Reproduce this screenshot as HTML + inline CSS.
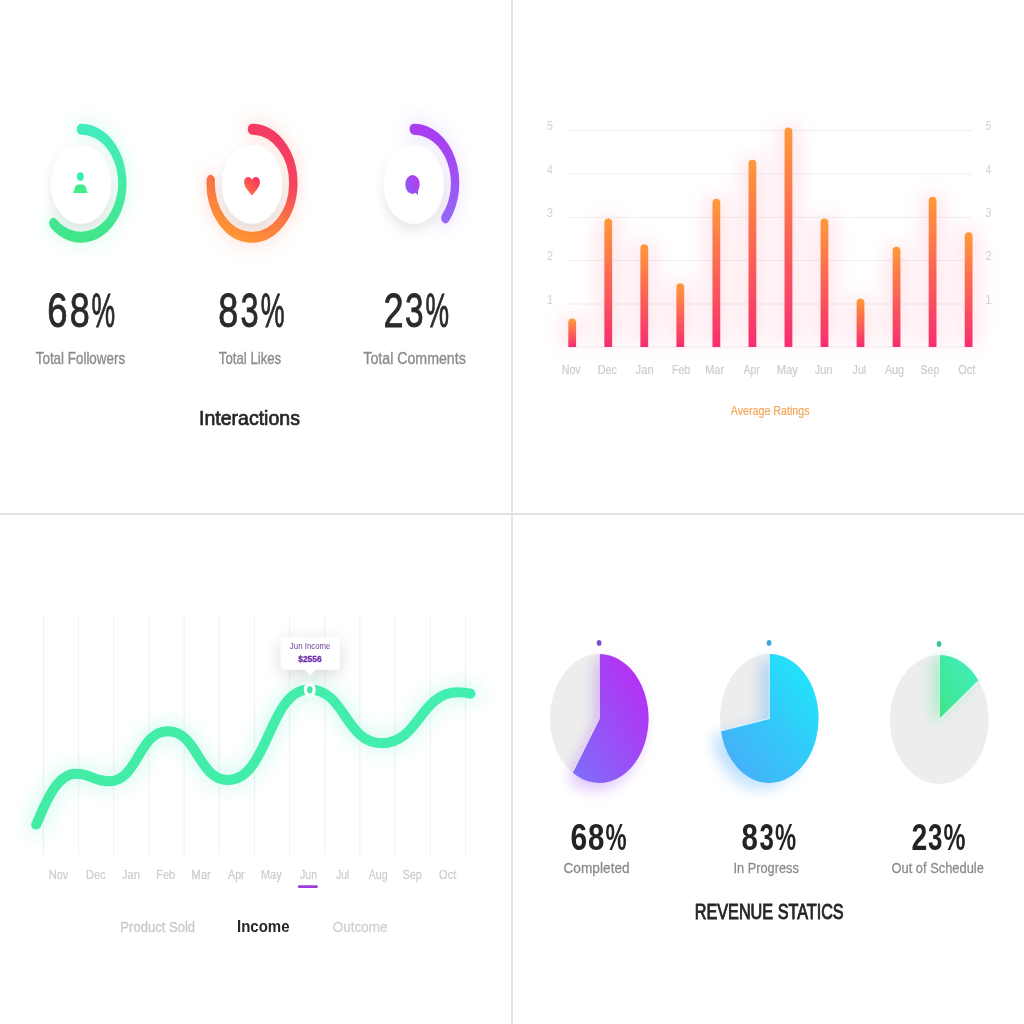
<!DOCTYPE html>
<html><head><meta charset="utf-8"><style>
html,body{margin:0;padding:0;background:#fff;width:1024px;height:1024px;overflow:hidden}
svg{display:block;will-change:transform}
text{font-family:"Liberation Sans",sans-serif}
</style></head><body>
<svg width="1024" height="1024" viewBox="0 0 1024 1024">
<defs>
<linearGradient id="gGreen" x1="0" y1="0" x2="0" y2="1"><stop offset="0" stop-color="#44ecbc"/><stop offset="0.5" stop-color="#45eba6"/><stop offset="1" stop-color="#41e58a"/></linearGradient>
<linearGradient id="gOrange" x1="0.7" y1="0" x2="0.3" y2="1"><stop offset="0" stop-color="#f43a63"/><stop offset="0.38" stop-color="#f5465c"/><stop offset="0.68" stop-color="#fa7744"/><stop offset="1" stop-color="#fd9535"/></linearGradient>
<linearGradient id="gPurple" x1="0" y1="0" x2="0" y2="1"><stop offset="0" stop-color="#a83cf0"/><stop offset="1" stop-color="#9566f7"/></linearGradient>
<linearGradient id="gHeart" x1="1" y1="0" x2="0" y2="1"><stop offset="0" stop-color="#ff2668"/><stop offset="1" stop-color="#fb7f38"/></linearGradient>
<linearGradient id="gBubble" x1="1" y1="0.2" x2="0" y2="0.8"><stop offset="0" stop-color="#bb36f0"/><stop offset="1" stop-color="#865ff6"/></linearGradient>
<linearGradient id="gBar" x1="0" y1="0" x2="0" y2="1"><stop offset="0" stop-color="#fe9a3a"/><stop offset="1" stop-color="#f72d70"/></linearGradient>
<linearGradient id="gPie1" x1="1" y1="0" x2="0" y2="1"><stop offset="0" stop-color="#be26f3"/><stop offset="1" stop-color="#7c70f9"/></linearGradient>
<linearGradient id="gPie2" x1="1" y1="0" x2="0" y2="1"><stop offset="0" stop-color="#1cecfb"/><stop offset="0.5" stop-color="#34c8f9"/><stop offset="1" stop-color="#4aa8f8"/></linearGradient>
<linearGradient id="gPie3" x1="1" y1="0" x2="0" y2="1"><stop offset="0" stop-color="#43efc0"/><stop offset="1" stop-color="#3fe488"/></linearGradient>
<linearGradient id="gLine" x1="0" y1="0" x2="1" y2="0"><stop offset="0" stop-color="#42eca4"/><stop offset="1" stop-color="#43eeb0"/></linearGradient>
<filter id="blur6" x="-50%" y="-50%" width="200%" height="200%"><feGaussianBlur stdDeviation="6"/></filter>
<filter id="blur10" x="-100%" y="-50%" width="300%" height="200%"><feGaussianBlur stdDeviation="10"/></filter>
<filter id="blur8" x="-50%" y="-50%" width="200%" height="200%"><feGaussianBlur stdDeviation="8"/></filter>
<filter id="blur4" x="-50%" y="-50%" width="200%" height="200%"><feGaussianBlur stdDeviation="4"/></filter>
<filter id="blur3" x="-50%" y="-50%" width="200%" height="200%"><feGaussianBlur stdDeviation="3"/></filter>
<filter id="discSh" x="-50%" y="-50%" width="200%" height="200%"><feDropShadow dx="0" dy="6" stdDeviation="7" flood-color="#000" flood-opacity="0.10"/></filter>
<filter id="tipSh" x="-50%" y="-50%" width="200%" height="200%"><feDropShadow dx="0" dy="4" stdDeviation="8" flood-color="#000" flood-opacity="0.15"/></filter>

</defs>
<rect x="511" y="0" width="2" height="1024" fill="#e3e3e3"/>
<rect x="0" y="513" width="1024" height="2" fill="#e3e3e3"/>
<g transform="translate(81.0,183.2) scale(0.765,1)">
<path d="M0.00,-54.00 A54,54 0 1 1 -36.13,40.13" fill="none" stroke="#3fe6a0" stroke-opacity="0.13" stroke-width="22" stroke-linecap="round" filter="url(#blur8)"/>
<circle cx="0" cy="1" r="39.5" fill="#ffffff" filter="url(#discSh)"/>
<path d="M0.00,-54.00 A54,54 0 1 1 -36.13,40.13" fill="none" stroke="url(#gGreen)" stroke-width="11" stroke-linecap="round"/>
</g>
<g transform="translate(252.0,183.2) scale(0.765,1)">
<path d="M0.00,-54.00 A54,54 0 1 1 -53.93,-2.83" fill="none" stroke="#fb6a4a" stroke-opacity="0.14" stroke-width="22" stroke-linecap="round" filter="url(#blur8)"/>
<circle cx="0" cy="1" r="39.5" fill="#ffffff" filter="url(#discSh)"/>
<path d="M0.00,-54.00 A54,54 0 1 1 -53.93,-2.83" fill="none" stroke="url(#gOrange)" stroke-width="11" stroke-linecap="round"/>
</g>
<g transform="translate(413.8,183.2) scale(0.765,1)">
<path d="M0.00,-54.00 A54,54 0 0 1 41.37,34.71" fill="none" stroke="#a050f0" stroke-opacity="0.12" stroke-width="22" stroke-linecap="round" filter="url(#blur8)"/>
<circle cx="0" cy="1" r="39.5" fill="#ffffff" filter="url(#discSh)"/>
<path d="M0.00,-54.00 A54,54 0 0 1 41.37,34.71" fill="none" stroke="url(#gPurple)" stroke-width="11" stroke-linecap="round"/>
</g>
<circle cx="80.4" cy="176.6" r="4.3" transform="translate(80.4,176.6) scale(0.79,1) translate(-80.4,-176.6)" fill="#35eeb8"/>
<path d="M73.2,192.9 L75.3,186.6 Q76.2,184.4 78.8,184.4 L82,184.4 Q84.6,184.4 85.5,186.6 L87.6,192.9 Z" fill="#44ec8c"/>
<g transform="translate(252,186.2) scale(0.7191,0.97)"><path d="M0,9.5 C-4,6 -11,1 -11,-4 C-11,-8 -8,-9.5 -5.5,-9.5 C-3,-9.5 -1,-8.2 0,-6.6 C1,-8.2 3,-9.5 5.5,-9.5 C8,-9.5 11,-8 11,-4 C11,1 4,6 0,9.5 Z" fill="url(#gHeart)"/></g>
<g transform="translate(412.5,184.5) scale(0.765,1)"><circle cx="0" cy="0" r="9.4" fill="url(#gBubble)"/><path d="M3.5,7.5 L6.8,11 L7.6,4.8 Z" fill="#8f55e6"/></g>
<text transform="matrix(0.7674,0,0,1,47.27,326.50)" x="0" y="0" font-size="47.5" font-weight="normal" fill="#2a2a2a" stroke="#2a2a2a" stroke-width="0.9">6</text>
<text transform="matrix(0.7578,0,0,1,69.81,326.50)" x="0" y="0" font-size="47.5" font-weight="normal" fill="#2a2a2a" stroke="#2a2a2a" stroke-width="0.9">8</text>
<text transform="matrix(0.5596,0,0,1,91.42,326.50)" x="0" y="0" font-size="47.5" font-weight="normal" fill="#2a2a2a" stroke="#2a2a2a" stroke-width="0.9">%</text>
<text transform="matrix(0.7578,0,0,1,218.31,326.50)" x="0" y="0" font-size="47.5" font-weight="normal" fill="#2a2a2a" stroke="#2a2a2a" stroke-width="0.9">8</text>
<text transform="matrix(0.6862,0,0,1,240.59,326.50)" x="0" y="0" font-size="47.5" font-weight="normal" fill="#2a2a2a" stroke="#2a2a2a" stroke-width="0.9">3</text>
<text transform="matrix(0.5646,0,0,1,260.82,326.50)" x="0" y="0" font-size="47.5" font-weight="normal" fill="#2a2a2a" stroke="#2a2a2a" stroke-width="0.9">%</text>
<text transform="matrix(0.7596,0,0,1,383.44,326.50)" x="0" y="0" font-size="47.5" font-weight="normal" fill="#2a2a2a" stroke="#2a2a2a" stroke-width="0.9">2</text>
<text transform="matrix(0.7032,0,0,1,404.96,326.50)" x="0" y="0" font-size="47.5" font-weight="normal" fill="#2a2a2a" stroke="#2a2a2a" stroke-width="0.9">3</text>
<text transform="matrix(0.5571,0,0,1,425.52,326.50)" x="0" y="0" font-size="47.5" font-weight="normal" fill="#2a2a2a" stroke="#2a2a2a" stroke-width="0.9">%</text>
<text transform="matrix(0.8384,0,0,1,35.74,364.40)" x="0" y="0" font-size="16" font-weight="normal" fill="#8c8c8c" stroke="#8c8c8c" stroke-width="0.35">Total Followers</text>
<text transform="matrix(0.8263,0,0,1,218.85,364.40)" x="0" y="0" font-size="16" font-weight="normal" fill="#8c8c8c" stroke="#8c8c8c" stroke-width="0.35">Total Likes</text>
<text transform="matrix(0.8867,0,0,1,363.34,364.40)" x="0" y="0" font-size="16" font-weight="normal" fill="#8c8c8c" stroke="#8c8c8c" stroke-width="0.35">Total Comments</text>
<text transform="matrix(0.9616,0,0,1,199.03,424.90)" x="0" y="0" font-size="20.3" font-weight="normal" fill="#262626" stroke="#262626" stroke-width="0.7">Interactions</text>
<rect x="568.3" y="130.0" width="404" height="1" fill="#efefef"/>
<rect x="568.3" y="173.5" width="404" height="1" fill="#efefef"/>
<rect x="568.3" y="216.8" width="404" height="1" fill="#efefef"/>
<rect x="568.3" y="260.1" width="404" height="1" fill="#efefef"/>
<rect x="568.3" y="303.5" width="404" height="1" fill="#efefef"/>
<rect x="568.3" y="346.5" width="404" height="1" fill="#efefef"/>
<text transform="matrix(0.7797,0,0,1,547.08,130.00)" x="0" y="0" font-size="13.5" font-weight="normal" fill="#d2d2d2" >5</text>
<text transform="matrix(0.7797,0,0,1,985.58,130.00)" x="0" y="0" font-size="13.5" font-weight="normal" fill="#d2d2d2" >5</text>
<text transform="matrix(0.7334,0,0,1,547.28,173.50)" x="0" y="0" font-size="13.5" font-weight="normal" fill="#d2d2d2" >4</text>
<text transform="matrix(0.7334,0,0,1,985.78,173.50)" x="0" y="0" font-size="13.5" font-weight="normal" fill="#d2d2d2" >4</text>
<text transform="matrix(0.7797,0,0,1,547.11,216.80)" x="0" y="0" font-size="13.5" font-weight="normal" fill="#d2d2d2" >3</text>
<text transform="matrix(0.7797,0,0,1,985.61,216.80)" x="0" y="0" font-size="13.5" font-weight="normal" fill="#d2d2d2" >3</text>
<text transform="matrix(0.8140,0,0,1,546.95,260.10)" x="0" y="0" font-size="13.5" font-weight="normal" fill="#d2d2d2" >2</text>
<text transform="matrix(0.8140,0,0,1,985.45,260.10)" x="0" y="0" font-size="13.5" font-weight="normal" fill="#d2d2d2" >2</text>
<text transform="matrix(0.8563,0,0,1,546.63,303.50)" x="0" y="0" font-size="13.5" font-weight="normal" fill="#d2d2d2" >1</text>
<text transform="matrix(0.8563,0,0,1,985.13,303.50)" x="0" y="0" font-size="13.5" font-weight="normal" fill="#d2d2d2" >1</text>
<rect x="562.30" y="316.40" width="19.80" height="28.60" fill="#ff4d7a" opacity="0.16" filter="url(#blur10)"/><rect x="598.34" y="216.40" width="19.80" height="128.60" fill="#ff4d7a" opacity="0.16" filter="url(#blur10)"/><rect x="634.38" y="242.20" width="19.80" height="102.80" fill="#ff4d7a" opacity="0.16" filter="url(#blur10)"/><rect x="670.42" y="281.20" width="19.80" height="63.80" fill="#ff4d7a" opacity="0.16" filter="url(#blur10)"/><rect x="706.46" y="196.70" width="19.80" height="148.30" fill="#ff4d7a" opacity="0.16" filter="url(#blur10)"/><rect x="742.50" y="157.70" width="19.80" height="187.30" fill="#ff4d7a" opacity="0.16" filter="url(#blur10)"/><rect x="778.54" y="125.40" width="19.80" height="219.60" fill="#ff4d7a" opacity="0.16" filter="url(#blur10)"/><rect x="814.58" y="216.40" width="19.80" height="128.60" fill="#ff4d7a" opacity="0.16" filter="url(#blur10)"/><rect x="850.62" y="296.40" width="19.80" height="48.60" fill="#ff4d7a" opacity="0.16" filter="url(#blur10)"/><rect x="886.66" y="244.80" width="19.80" height="100.20" fill="#ff4d7a" opacity="0.16" filter="url(#blur10)"/><rect x="922.70" y="194.80" width="19.80" height="150.20" fill="#ff4d7a" opacity="0.16" filter="url(#blur10)"/><rect x="958.74" y="230.30" width="19.80" height="114.70" fill="#ff4d7a" opacity="0.16" filter="url(#blur10)"/>
<path d="M568.30,347 L568.30,322.30 A3.9,3.9 0 0 1 576.10,322.30 L576.10,347 Z" fill="url(#gBar)"/><path d="M604.34,347 L604.34,222.30 A3.9,3.9 0 0 1 612.14,222.30 L612.14,347 Z" fill="url(#gBar)"/><path d="M640.38,347 L640.38,248.10 A3.9,3.9 0 0 1 648.18,248.10 L648.18,347 Z" fill="url(#gBar)"/><path d="M676.42,347 L676.42,287.10 A3.9,3.9 0 0 1 684.22,287.10 L684.22,347 Z" fill="url(#gBar)"/><path d="M712.46,347 L712.46,202.60 A3.9,3.9 0 0 1 720.26,202.60 L720.26,347 Z" fill="url(#gBar)"/><path d="M748.50,347 L748.50,163.60 A3.9,3.9 0 0 1 756.30,163.60 L756.30,347 Z" fill="url(#gBar)"/><path d="M784.54,347 L784.54,131.30 A3.9,3.9 0 0 1 792.34,131.30 L792.34,347 Z" fill="url(#gBar)"/><path d="M820.58,347 L820.58,222.30 A3.9,3.9 0 0 1 828.38,222.30 L828.38,347 Z" fill="url(#gBar)"/><path d="M856.62,347 L856.62,302.30 A3.9,3.9 0 0 1 864.42,302.30 L864.42,347 Z" fill="url(#gBar)"/><path d="M892.66,347 L892.66,250.70 A3.9,3.9 0 0 1 900.46,250.70 L900.46,347 Z" fill="url(#gBar)"/><path d="M928.70,347 L928.70,200.70 A3.9,3.9 0 0 1 936.50,200.70 L936.50,347 Z" fill="url(#gBar)"/><path d="M964.74,347 L964.74,236.20 A3.9,3.9 0 0 1 972.54,236.20 L972.54,347 Z" fill="url(#gBar)"/>
<text transform="matrix(0.8040,0,0,1,561.67,373.70)" x="0" y="0" font-size="13.3" font-weight="normal" fill="#cdcdcd" stroke="#cdcdcd" stroke-width="0.25">Nov</text>
<text transform="matrix(0.8160,0,0,1,597.76,373.70)" x="0" y="0" font-size="13.3" font-weight="normal" fill="#cdcdcd" stroke="#cdcdcd" stroke-width="0.25">Dec</text>
<text transform="matrix(0.8433,0,0,1,635.54,373.70)" x="0" y="0" font-size="13.3" font-weight="normal" fill="#cdcdcd" stroke="#cdcdcd" stroke-width="0.25">Jan</text>
<text transform="matrix(0.7989,0,0,1,671.92,373.70)" x="0" y="0" font-size="13.3" font-weight="normal" fill="#cdcdcd" stroke="#cdcdcd" stroke-width="0.25">Feb</text>
<text transform="matrix(0.8279,0,0,1,705.15,373.70)" x="0" y="0" font-size="13.3" font-weight="normal" fill="#cdcdcd" stroke="#cdcdcd" stroke-width="0.25">Mar</text>
<text transform="matrix(0.7682,0,0,1,743.72,373.70)" x="0" y="0" font-size="13.3" font-weight="normal" fill="#cdcdcd" stroke="#cdcdcd" stroke-width="0.25">Apr</text>
<text transform="matrix(0.8410,0,0,1,776.68,373.70)" x="0" y="0" font-size="13.3" font-weight="normal" fill="#cdcdcd" stroke="#cdcdcd" stroke-width="0.25">May</text>
<text transform="matrix(0.8336,0,0,1,814.64,373.70)" x="0" y="0" font-size="13.3" font-weight="normal" fill="#cdcdcd" stroke="#cdcdcd" stroke-width="0.25">Jun</text>
<text transform="matrix(0.7991,0,0,1,852.59,373.70)" x="0" y="0" font-size="13.3" font-weight="normal" fill="#cdcdcd" stroke="#cdcdcd" stroke-width="0.25">Jul</text>
<text transform="matrix(0.8121,0,0,1,884.92,373.70)" x="0" y="0" font-size="13.3" font-weight="normal" fill="#cdcdcd" stroke="#cdcdcd" stroke-width="0.25">Aug</text>
<text transform="matrix(0.7952,0,0,1,920.57,373.70)" x="0" y="0" font-size="13.3" font-weight="normal" fill="#cdcdcd" stroke="#cdcdcd" stroke-width="0.25">Sep</text>
<text transform="matrix(0.8218,0,0,1,958.18,373.70)" x="0" y="0" font-size="13.3" font-weight="normal" fill="#cdcdcd" stroke="#cdcdcd" stroke-width="0.25">Oct</text>
<text transform="matrix(0.8701,0,0,1,730.76,415.00)" x="0" y="0" font-size="12.3" font-weight="normal" fill="#f2a55a" stroke="#f2a55a" stroke-width="0.2">Average Ratings</text>
<rect x="42.90" y="616" width="1" height="239" fill="#f0f0f0"/>
<rect x="78.07" y="616" width="1" height="239" fill="#f0f0f0"/>
<rect x="113.24" y="616" width="1" height="239" fill="#f0f0f0"/>
<rect x="148.41" y="616" width="1" height="239" fill="#f0f0f0"/>
<rect x="183.58" y="616" width="1" height="239" fill="#f0f0f0"/>
<rect x="218.75" y="616" width="1" height="239" fill="#f0f0f0"/>
<rect x="253.92" y="616" width="1" height="239" fill="#f0f0f0"/>
<rect x="289.09" y="616" width="1" height="239" fill="#f0f0f0"/>
<rect x="324.26" y="616" width="1" height="239" fill="#f0f0f0"/>
<rect x="359.43" y="616" width="1" height="239" fill="#f0f0f0"/>
<rect x="394.60" y="616" width="1" height="239" fill="#f0f0f0"/>
<rect x="429.77" y="616" width="1" height="239" fill="#f0f0f0"/>
<rect x="464.94" y="616" width="1" height="239" fill="#f0f0f0"/>
<path d="M36.2,824.6 C44.2,806.6 55.85,773.7 75.5,773.7 C92.15,773.70 92.15,781.20 108.80,781.20 C138.35,781.20 138.35,731.20 167.90,731.20 C197.95,731.20 197.95,779.90 228.00,779.90 C268.65,779.90 268.65,689.50 309.30,689.50 C345.35,689.50 345.35,743.20 381.40,743.20 C419.70,743.20 419.70,692.30 458.00,692.30 C463,692.3 467,692.8 470.5,693.7" fill="none" stroke="#3fe6c0" stroke-opacity="0.16" stroke-width="22" stroke-linecap="round" filter="url(#blur8)"/>
<path d="M36.2,824.6 C44.2,806.6 55.85,773.7 75.5,773.7 C92.15,773.70 92.15,781.20 108.80,781.20 C138.35,781.20 138.35,731.20 167.90,731.20 C197.95,731.20 197.95,779.90 228.00,779.90 C268.65,779.90 268.65,689.50 309.30,689.50 C345.35,689.50 345.35,743.20 381.40,743.20 C419.70,743.20 419.70,692.30 458.00,692.30 C463,692.3 467,692.8 470.5,693.7" fill="none" stroke="url(#gLine)" stroke-width="10" stroke-linecap="round"/>
<g transform="translate(309.8,689.8) scale(0.765,1)"><circle r="7.8" fill="#ffffff"/><circle r="3.6" fill="#3ee8a8"/></g>
<g filter="url(#tipSh)"><rect x="280.9" y="637.5" width="58.6" height="32" rx="3" fill="#fff"/><path d="M304.5,669 L310.2,675 L316,669 Z" fill="#fff"/></g>
<text transform="matrix(0.8572,0,0,1,289.83,649.20)" x="0" y="0" font-size="9.2" font-weight="normal" fill="#72409f" >Jun Income</text>
<text transform="matrix(0.9762,0,0,1,298.19,661.70)" x="0" y="0" font-size="8.7" font-weight="bold" fill="#6c2eaa" stroke="#6c2eaa" stroke-width="0.3">$2556</text>
<text transform="matrix(0.8216,0,0,1,48.85,878.90)" x="0" y="0" font-size="13.3" font-weight="normal" fill="#cdcdcd" stroke="#cdcdcd" stroke-width="0.25">Nov</text>
<text transform="matrix(0.8160,0,0,1,86.06,878.90)" x="0" y="0" font-size="13.3" font-weight="normal" fill="#cdcdcd" stroke="#cdcdcd" stroke-width="0.25">Dec</text>
<text transform="matrix(0.8336,0,0,1,122.04,878.90)" x="0" y="0" font-size="13.3" font-weight="normal" fill="#cdcdcd" stroke="#cdcdcd" stroke-width="0.25">Jan</text>
<text transform="matrix(0.8268,0,0,1,156.30,878.90)" x="0" y="0" font-size="13.3" font-weight="normal" fill="#cdcdcd" stroke="#cdcdcd" stroke-width="0.25">Feb</text>
<text transform="matrix(0.8553,0,0,1,191.32,878.90)" x="0" y="0" font-size="13.3" font-weight="normal" fill="#cdcdcd" stroke="#cdcdcd" stroke-width="0.25">Mar</text>
<text transform="matrix(0.8020,0,0,1,228.07,878.90)" x="0" y="0" font-size="13.3" font-weight="normal" fill="#cdcdcd" stroke="#cdcdcd" stroke-width="0.25">Apr</text>
<text transform="matrix(0.8245,0,0,1,261.00,878.90)" x="0" y="0" font-size="13.3" font-weight="normal" fill="#cdcdcd" stroke="#cdcdcd" stroke-width="0.25">May</text>
<text transform="matrix(0.8094,0,0,1,299.89,878.90)" x="0" y="0" font-size="13.3" font-weight="normal" fill="#cdcdcd" stroke="#cdcdcd" stroke-width="0.25">Jun</text>
<text transform="matrix(0.7991,0,0,1,335.89,878.90)" x="0" y="0" font-size="13.3" font-weight="normal" fill="#cdcdcd" stroke="#cdcdcd" stroke-width="0.25">Jul</text>
<text transform="matrix(0.8034,0,0,1,368.72,878.90)" x="0" y="0" font-size="13.3" font-weight="normal" fill="#cdcdcd" stroke="#cdcdcd" stroke-width="0.25">Aug</text>
<text transform="matrix(0.8128,0,0,1,402.57,878.90)" x="0" y="0" font-size="13.3" font-weight="normal" fill="#cdcdcd" stroke="#cdcdcd" stroke-width="0.25">Sep</text>
<text transform="matrix(0.8317,0,0,1,439.08,878.90)" x="0" y="0" font-size="13.3" font-weight="normal" fill="#cdcdcd" stroke="#cdcdcd" stroke-width="0.25">Oct</text>
<rect x="297.8" y="885.3" width="20.2" height="2.6" rx="1.3" fill="#9a3fd8"/>
<text transform="matrix(0.8477,0,0,1,120.35,931.70)" x="0" y="0" font-size="15.4" font-weight="normal" fill="#c9c9c9" stroke="#c9c9c9" stroke-width="0.3">Product Sold</text>
<text transform="matrix(0.8721,0,0,1,236.99,931.70)" x="0" y="0" font-size="17.2" font-weight="bold" fill="#262626" >Income</text>
<text transform="matrix(0.8768,0,0,1,332.69,931.70)" x="0" y="0" font-size="15.4" font-weight="normal" fill="#d0d0d0" stroke="#d0d0d0" stroke-width="0.3">Outcome</text>
<g transform="translate(599.3,718.5) scale(0.765,1)">
<circle r="64.4" fill="#ededed"/>
<path d="M0,0 L0.00,-64.40 A64.4,64.4 0 1 1 -35.07,54.01 Z" fill="#9b4ef0" opacity="0.35" filter="url(#blur8)" transform="translate(-6,6)"/>
<path d="M0,0 L0.00,-64.40 A64.4,64.4 0 1 1 -35.07,54.01 Z" fill="url(#gPie1)"/>
<path d="M0,-64.4 L0,0 L-35.07,54.01" fill="none" stroke="#ffffff" stroke-opacity="0.7" stroke-width="1.3"/>
<ellipse cx="-0.3" cy="-75.6" rx="3.1" ry="2.95" fill="#7b4fd0"/>
</g>
<g transform="translate(769.3,718.5) scale(0.765,1)">
<circle r="64.4" fill="#ededed"/>
<path d="M0,0 L0.00,-64.40 A64.4,64.4 0 1 1 -63.22,12.29 Z" fill="#3aa0f8" opacity="0.32" filter="url(#blur8)" transform="translate(-12,6)"/>
<path d="M0,0 L0.00,-64.40 A64.4,64.4 0 1 1 -63.22,12.29 Z" fill="url(#gPie2)"/>
<path d="M0,-64.4 L0,0 L-63.22,12.29" fill="none" stroke="#ffffff" stroke-opacity="0.7" stroke-width="1.3"/>
<ellipse cx="-0.3" cy="-75.6" rx="3.1" ry="2.95" fill="#3aa8d8"/>
</g>
<g transform="translate(939.3,719.5) scale(0.765,1)">
<circle r="64.4" fill="#ededed"/>
<path d="M0,0 L0.00,-64.40 A64.4,64.4 0 0 1 51.43,-38.76 Z" fill="#40e690" opacity="0.4" filter="url(#blur8)" transform="translate(-8,3)"/>
<path d="M0,0 L0.00,-64.40 A64.4,64.4 0 0 1 51.43,-38.76 Z" fill="url(#gPie3)"/>
<path d="M0,-64.4 L0,0 L51.43,-38.76" fill="none" stroke="#ffffff" stroke-opacity="0.7" stroke-width="1.3"/>
<ellipse cx="-0.3" cy="-75.6" rx="3.1" ry="2.95" fill="#3cc49a"/>
</g>
<text transform="matrix(0.8233,0,0,1,570.57,850.40)" x="0" y="0" font-size="36.5" font-weight="bold" fill="#232323" >6</text>
<text transform="matrix(0.8066,0,0,1,587.94,850.40)" x="0" y="0" font-size="36.5" font-weight="bold" fill="#232323" >8</text>
<text transform="matrix(0.6510,0,0,1,605.51,850.40)" x="0" y="0" font-size="36.5" font-weight="bold" fill="#232323" >%</text>
<text transform="matrix(0.8066,0,0,1,741.54,850.40)" x="0" y="0" font-size="36.5" font-weight="bold" fill="#232323" >8</text>
<text transform="matrix(0.7104,0,0,1,759.52,850.40)" x="0" y="0" font-size="36.5" font-weight="bold" fill="#232323" >3</text>
<text transform="matrix(0.6510,0,0,1,775.11,850.40)" x="0" y="0" font-size="36.5" font-weight="bold" fill="#232323" >%</text>
<text transform="matrix(0.7779,0,0,1,911.51,850.40)" x="0" y="0" font-size="36.5" font-weight="bold" fill="#232323" >2</text>
<text transform="matrix(0.7104,0,0,1,927.92,850.40)" x="0" y="0" font-size="36.5" font-weight="bold" fill="#232323" >3</text>
<text transform="matrix(0.6772,0,0,1,943.48,850.40)" x="0" y="0" font-size="36.5" font-weight="bold" fill="#232323" >%</text>
<text transform="matrix(0.9523,0,0,1,563.43,872.90)" x="0" y="0" font-size="14.4" font-weight="normal" fill="#8a8a8a" stroke="#8a8a8a" stroke-width="0.25">Completed</text>
<text transform="matrix(0.8885,0,0,1,733.43,872.90)" x="0" y="0" font-size="14.4" font-weight="normal" fill="#8a8a8a" stroke="#8a8a8a" stroke-width="0.25">In Progress</text>
<text transform="matrix(0.8953,0,0,1,891.50,872.90)" x="0" y="0" font-size="14.4" font-weight="normal" fill="#8a8a8a" stroke="#8a8a8a" stroke-width="0.25">Out of Schedule</text>
<text transform="matrix(0.7654,0,0,1,694.76,919.00)" x="0" y="0" font-size="21.2" font-weight="normal" fill="#252525" stroke="#252525" stroke-width="0.9">REVENUE STATICS</text>
</svg>
</body></html>
